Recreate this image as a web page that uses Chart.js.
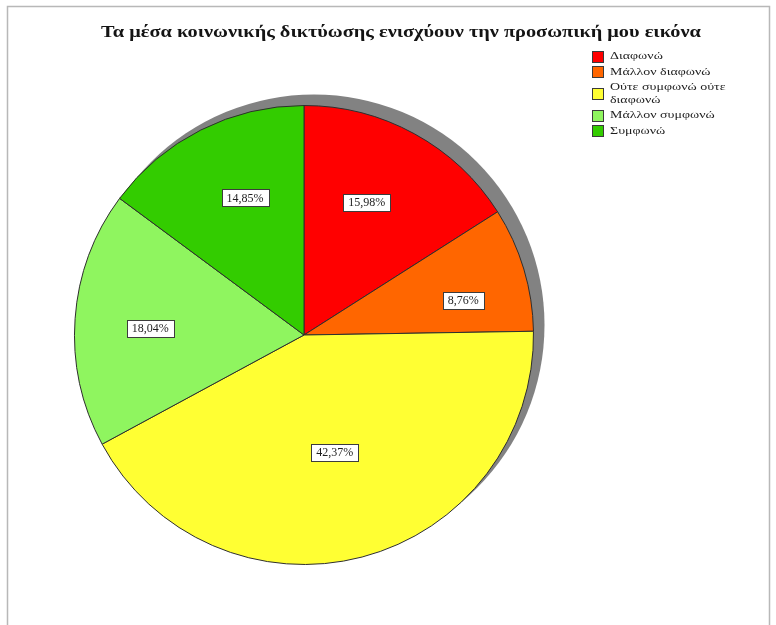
<!DOCTYPE html>
<html>
<head>
<meta charset="utf-8">
<script src="https://cdn.jsdelivr.net/npm/chart.js@4.4.1/dist/chart.umd.min.js"></script>
<style>
  html, body { margin: 0; padding: 0; background: #ffffff; }
  #wrap { position: relative; width: 776px; height: 625px; }
  canvas { display: block; }
</style>
</head>
<body>
<div id="wrap"><canvas id="c" width="776" height="625"></canvas></div>
<script>
// Survey answers: "Social media strengthen my personal image"
const chartTitle = 'Τα μέσα κοινωνικής δικτύωσης ενισχύουν την προσωπική μου εικόνα';
const categories = ['Διαφωνώ', 'Μάλλον διαφωνώ', 'Ούτε συμφωνώ ούτε διαφωνώ', 'Μάλλον συμφωνώ', 'Συμφωνώ'];
const percentages = [15.98, 8.76, 42.37, 18.04, 14.85];
const sliceColors = ['#FF0000', '#FF6600', '#FFFF33', '#8FF55F', '#33CC00'];

// How far out (as a share of the radius) each percentage box sits
const labelRadius = [0.64, 0.71, 0.53, 0.67, 0.65];
// Small angular nudge (radians) of each box from its slice's mid angle
const labelTurn = [-0.06, 0.08, 0, -0.03, 0.06];
const textStretch = 1.27; // wide serif lettering of title and legend

function fmtPct(v) {
  return v.toFixed(2).replace('.', ',') + '%';
}

// White page with the thin grey frame and the bold title
const frameAndTitle = {
  id: 'frameAndTitle',
  beforeDraw(chart) {
    const ctx = chart.ctx;
    ctx.save();
    ctx.fillStyle = '#ffffff';
    ctx.fillRect(0, 0, chart.width, chart.height);
    ctx.strokeStyle = '#b8b8b8';
    ctx.lineWidth = 1.5;
    ctx.beginPath();
    ctx.moveTo(7.5, chart.height + 2);
    ctx.lineTo(7.5, 6.5);
    ctx.lineTo(769.5, 6.5);
    ctx.lineTo(769.5, chart.height + 2);
    ctx.stroke();

    ctx.translate(401, 33);
    ctx.scale(textStretch, 1);
    ctx.font = 'bold 16px "Liberation Serif"';
    ctx.fillStyle = '#141414';
    ctx.textAlign = 'center';
    ctx.textBaseline = 'middle';
    ctx.fillText(chartTitle, 0, 0);
    ctx.restore();
  }
};

// Grey drop shadow behind the pie, offset up and to the right
const pieShadow = {
  id: 'pieShadow',
  beforeDatasetsDraw(chart) {
    const arc = chart.getDatasetMeta(0).data[0];
    if (!arc) return;
    const p = arc.getProps(['x', 'y', 'outerRadius'], true);
    const ctx = chart.ctx;
    ctx.save();
    ctx.fillStyle = '#828282';
    ctx.beginPath();
    ctx.arc(p.x + 10, p.y - 10, p.outerRadius + 1, 0, Math.PI * 2);
    ctx.fill();
    ctx.restore();
  }
};

// Boxed percentage labels inside each slice
const sliceLabels = {
  id: 'sliceLabels',
  afterDatasetsDraw(chart) {
    const ctx = chart.ctx;
    const meta = chart.getDatasetMeta(0);
    const values = chart.data.datasets[0].data;
    ctx.save();
    ctx.font = '12px "Liberation Serif"';
    ctx.textAlign = 'center';
    ctx.textBaseline = 'middle';
    meta.data.forEach((arc, i) => {
      const p = arc.getProps(['x', 'y', 'startAngle', 'endAngle', 'outerRadius'], true);
      const mid = (p.startAngle + p.endAngle) / 2 + labelTurn[i];
      const r = p.outerRadius * labelRadius[i];
      const cx = p.x + Math.cos(mid) * r;
      const cy = p.y + Math.sin(mid) * r;
      const txt = fmtPct(values[i]);
      const w = ctx.measureText(txt).width + 10;
      const h = 17;
      const x0 = Math.round(cx - w / 2) + 0.5;
      const y0 = Math.round(cy - h / 2) + 0.5;
      ctx.fillStyle = '#ffffff';
      ctx.fillRect(x0, y0, w, h);
      ctx.strokeStyle = '#3c3c3c';
      ctx.lineWidth = 1;
      ctx.strokeRect(x0, y0, w, h);
      ctx.fillStyle = '#1e1e1e';
      ctx.fillText(txt, cx, cy + 0.5);
    });
    ctx.restore();
  }
};

// Legend in the top right corner, built from the chart data
const cornerLegend = {
  id: 'cornerLegend',
  afterDraw(chart) {
    const ctx = chart.ctx;
    const labels = chart.data.labels;
    const colors = chart.data.datasets[0].backgroundColor;
    const x = 592, boxSize = 11, textX = 610, maxWidth = 125, lineH = 12.5;
    let y = 50;
    ctx.save();
    ctx.font = '11px "Liberation Serif"';
    ctx.textBaseline = 'middle';
    labels.forEach((label, i) => {
      // wrap long answers on word boundaries
      const words = label.split(' ');
      const lines = [];
      let cur = '';
      words.forEach(wd => {
        const test = cur ? cur + ' ' + wd : wd;
        if (ctx.measureText(test).width * textStretch > maxWidth && cur) {
          lines.push(cur);
          cur = wd;
        } else {
          cur = test;
        }
      });
      lines.push(cur);
      const blockH = Math.max(boxSize, lines.length * lineH);
      const boxY = y + (blockH - boxSize) / 2;
      ctx.fillStyle = colors[i];
      ctx.fillRect(x + 0.5, Math.round(boxY) + 0.5, boxSize, boxSize);
      ctx.strokeStyle = '#3a3a3a';
      ctx.lineWidth = 1;
      ctx.strokeRect(x + 0.5, Math.round(boxY) + 0.5, boxSize, boxSize);
      ctx.fillStyle = '#1e1e1e';
      lines.forEach((ln, k) => {
        const ty = y + (blockH - lines.length * lineH) / 2 + lineH * k + lineH / 2;
        ctx.save();
        ctx.translate(textX, ty);
        ctx.scale(textStretch, 1);
        ctx.fillText(ln, 0, 0);
        ctx.restore();
      });
      y += blockH + 3;
    });
    ctx.restore();
  }
};

new Chart(document.getElementById('c'), {
  type: 'pie',
  data: {
    labels: categories,
    datasets: [{
      data: percentages,
      backgroundColor: sliceColors,
      borderColor: '#2e2e2e',
      borderWidth: 1,
      hoverOffset: 0,
      offset: 0
    }]
  },
  options: {
    responsive: false,
    animation: false,
    devicePixelRatio: 1,
    layout: { padding: { left: 74, right: 242, top: 105, bottom: 60 } },
    plugins: {
      legend: { display: false },
      title: { display: false },
      tooltip: { enabled: false }
    }
  },
  plugins: [frameAndTitle, pieShadow, sliceLabels, cornerLegend]
});
</script>
</body>
</html>
